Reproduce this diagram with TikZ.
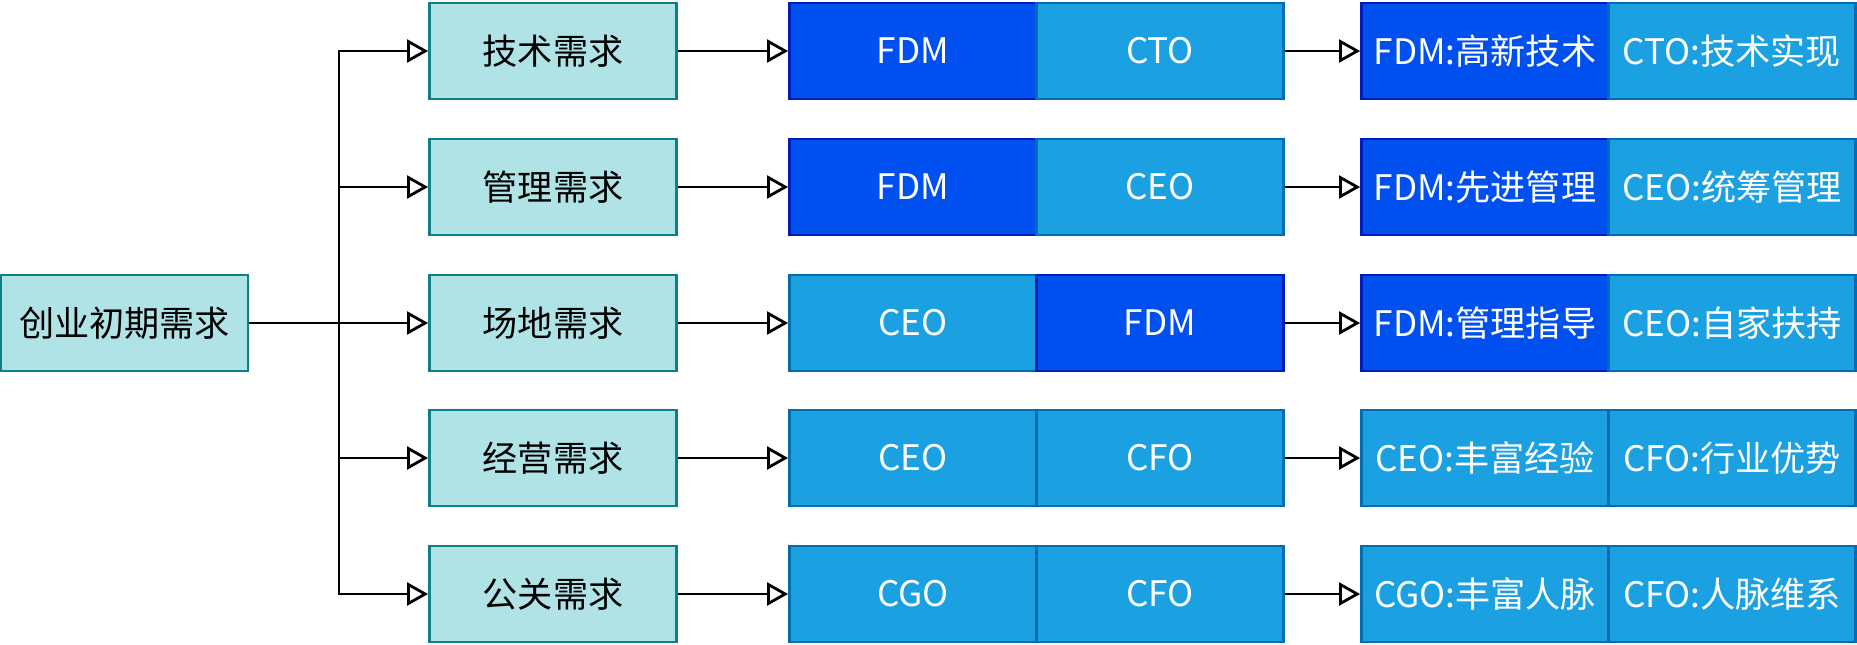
\documentclass[tikz,border=0pt]{standalone}
\usepackage{fontspec}
\setmainfont{Noto Sans CJK SC}
\usetikzlibrary{positioning}
\usetikzlibrary{arrows.meta}

\definecolor{needfill}{HTML}{B0E3E6}
\definecolor{needline}{HTML}{0E8088}
\definecolor{fdmfill}{HTML}{0050EF}
\definecolor{fdmline}{HTML}{001DBC}
\definecolor{rolefill}{HTML}{1BA1E2}
\definecolor{roleline}{HTML}{006EAF}

\begin{document}
\begin{tikzpicture}[
    needbox/.style={draw=needline, fill=needfill, line width=1.5pt, minimum width=4.94cm, minimum height=1.92cm, inner sep=0pt, font=\fontsize{20}{24}\selectfont},
    fdmbox/.style={needbox, draw=fdmline, fill=fdmfill, text=white},
    rolebox/.style={needbox, draw=roleline, fill=rolefill, text=white},
    conn/.style={line width=1.6pt, -{Triangle[open, length=12pt, width=13pt]}}
]
    \useasboundingbox (0,0) rectangle (37.14,-12.9);

    \node[needbox] (start) at (2.49,-6.46) {创业初期需求};

    \node[needbox] (tech) at (11.06,-1.02) {技术需求};
    \node[needbox] (mgmt) at (11.06,-3.74) {管理需求};
    \node[needbox] (site) at (11.06,-6.46) {场地需求};
    \node[needbox] (oper) at (11.06,-9.16) {经营需求};
    \node[needbox] (pr)   at (11.06,-11.88) {公关需求};

    % who fills the need
    \node[fdmbox] (techA) at (18.26,-1.02) {FDM};
    \node[rolebox, right=-1.5pt of techA] (techB) {CTO};
    \node[fdmbox] (mgmtA) at (18.26,-3.74) {FDM};
    \node[rolebox, right=-1.5pt of mgmtA] (mgmtB) {CEO};
    \node[rolebox] (siteA) at (18.26,-6.46) {CEO};
    \node[fdmbox, right=-1.5pt of siteA] (siteB) {FDM};
    \node[rolebox] (operA) at (18.26,-9.16) {CEO};
    \node[rolebox, right=-1.5pt of operA] (operB) {CFO};
    \node[rolebox] (prA) at (18.26,-11.88) {CGO};
    \node[rolebox, right=-1.5pt of prA] (prB) {CFO};

    % what each one brings
    \node[fdmbox] (techC) at (29.70,-1.02) {FDM:高新技术};
    \node[rolebox, right=-1.5pt of techC] (techD) {CTO:技术实现};
    \node[fdmbox] (mgmtC) at (29.70,-3.74) {FDM:先进管理};
    \node[rolebox, right=-1.5pt of mgmtC] (mgmtD) {CEO:统筹管理};
    \node[fdmbox] (siteC) at (29.70,-6.46) {FDM:管理指导};
    \node[rolebox, right=-1.5pt of siteC] (siteD) {CEO:自家扶持};
    \node[rolebox] (operC) at (29.70,-9.16) {CEO:丰富经验};
    \node[rolebox, right=-1.5pt of operC] (operD) {CFO:行业优势};
    \node[rolebox] (prC) at (29.70,-11.88) {CGO:丰富人脉};
    \node[rolebox, right=-1.5pt of prC] (prD) {CFO:人脉维系};

    \coordinate (split) at (6.78,-6.46);

    \draw[conn] (start) -- (site);
    \draw[conn] (split) |- (tech);
    \draw[conn] (split) |- (mgmt);
    \draw[conn] (split) |- (oper);
    \draw[conn] (split) |- (pr);

    \draw[conn] (tech) -- (techA);
    \draw[conn] (mgmt) -- (mgmtA);
    \draw[conn] (site) -- (siteA);
    \draw[conn] (oper) -- (operA);
    \draw[conn] (pr) -- (prA);

    \draw[conn] (techB) -- (techC);
    \draw[conn] (mgmtB) -- (mgmtC);
    \draw[conn] (siteB) -- (siteC);
    \draw[conn] (operB) -- (operC);
    \draw[conn] (prB) -- (prC);
\end{tikzpicture}
\end{document}
